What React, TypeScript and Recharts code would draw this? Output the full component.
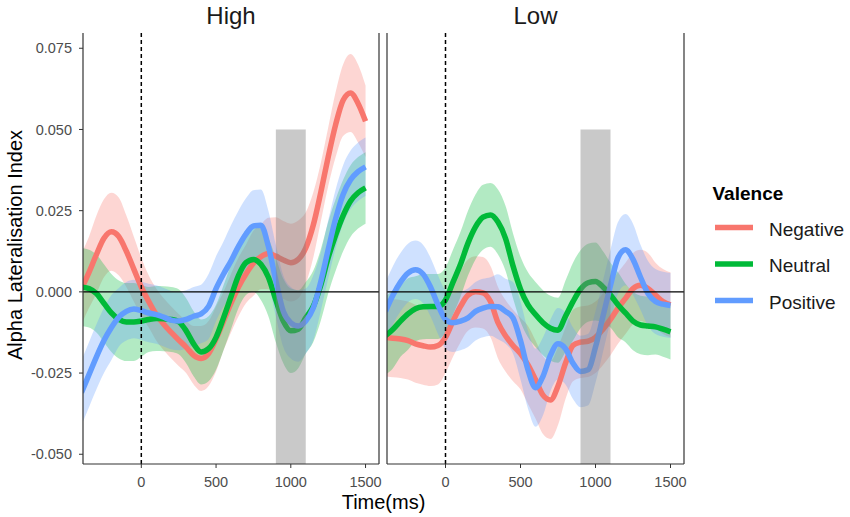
import React from 'react';
import { ComposedChart, Line, Area, XAxis, YAxis, ReferenceLine, ReferenceArea } from 'recharts';

// Time axis (ms), step 50
const times = [
  -400, -350, -300, -250, -200, -150, -100, -50, 0, 50,
  100, 150, 200, 250, 300, 350, 400, 450, 500, 550,
  600, 650, 700, 750, 800, 850, 900, 950, 1000, 1050,
  1100, 1150, 1200, 1250, 1300, 1350, 1400, 1450, 1500,
];

// ---- High panel ----
const highNegative = [
  0.001, 0.006, 0.0115, 0.0165, 0.0185, 0.017, 0.0125, 0.007, 0.0015, -0.003,
  -0.007, -0.01, -0.0125, -0.0148, -0.017, -0.0195, -0.0205, -0.019, -0.0145, -0.009,
  -0.0035, 0.0015, 0.0055, 0.0088, 0.0108, 0.0118, 0.011, 0.0098, 0.009, 0.01,
  0.0135, 0.0205, 0.0305, 0.0415, 0.0515, 0.059, 0.0612, 0.058, 0.0525,
];
const highNeutral = [
  0.0015, 0.001, -0.0005, -0.0035, -0.0065, -0.0085, -0.0093, -0.0093, -0.009, -0.0085,
  -0.0082, -0.0083, -0.0085, -0.0092, -0.012, -0.016, -0.0185, -0.0175, -0.014, -0.008,
  -0.0015, 0.005, 0.009, 0.01, 0.0085, 0.0045, -0.0025, -0.009, -0.012, -0.0115,
  -0.008, -0.0045, 0.002, 0.0105, 0.0175, 0.0235, 0.028, 0.0305, 0.032,
];
const highPositive = [
  -0.031, -0.0255, -0.02, -0.015, -0.011, -0.0078, -0.006, -0.0053, -0.0058, -0.0065,
  -0.007, -0.0078, -0.0087, -0.009, -0.0085, -0.0075, -0.0068, -0.0045, 0.001, 0.0055,
  0.0095, 0.014, 0.0178, 0.0203, 0.0205, 0.014, 0.0035, -0.006, -0.0095, -0.0105,
  -0.009, -0.005, 0.003, 0.013, 0.0225, 0.03, 0.0345, 0.037, 0.0385,
];
const highNegativeCI = [
  0.011, 0.011, 0.012, 0.012, 0.012, 0.012, 0.011, 0.01, 0.009, 0.008,
  0.008, 0.008, 0.008, 0.008, 0.008, 0.009, 0.01, 0.01, 0.01, 0.009,
  0.009, 0.009, 0.009, 0.01, 0.01, 0.011, 0.012, 0.012, 0.012, 0.012,
  0.011, 0.01, 0.009, 0.009, 0.01, 0.011, 0.012, 0.012, 0.011,
];
const highNeutralCI = [
  0.012, 0.012, 0.012, 0.012, 0.012, 0.012, 0.012, 0.012, 0.011, 0.01,
  0.01, 0.01, 0.01, 0.01, 0.01, 0.01, 0.01, 0.01, 0.01, 0.01,
  0.01, 0.01, 0.01, 0.01, 0.011, 0.012, 0.013, 0.013, 0.013, 0.012,
  0.011, 0.011, 0.011, 0.011, 0.011, 0.011, 0.011, 0.011, 0.011,
];
const highPositiveCI = [
  0.01, 0.01, 0.01, 0.01, 0.01, 0.009, 0.009, 0.009, 0.009, 0.009,
  0.009, 0.009, 0.009, 0.009, 0.009, 0.009, 0.009, 0.01, 0.01, 0.01,
  0.011, 0.011, 0.011, 0.011, 0.011, 0.011, 0.011, 0.011, 0.011, 0.011,
  0.01, 0.01, 0.009, 0.009, 0.009, 0.009, 0.009, 0.009, 0.009,
];

// ---- Low panel ----
const lowNegative = [
  -0.014, -0.0143, -0.0145, -0.015, -0.016, -0.0166, -0.017, -0.0165, -0.014, -0.009,
  -0.0045, -0.001, 0.0, -0.0003, -0.003, -0.0095, -0.0135, -0.0165, -0.019, -0.0225,
  -0.027, -0.0318, -0.0333, -0.029, -0.022, -0.0165, -0.0155, -0.0152, -0.014, -0.0115,
  -0.0085, -0.005, -0.002, 0.001, 0.002, 0.001, -0.001, -0.003, -0.004,
];
const lowNeutral = [
  -0.0135, -0.0115, -0.009, -0.0068, -0.0052, -0.0046, -0.0045, -0.0045, -0.0025, 0.003,
  0.0085, 0.015, 0.02, 0.023, 0.0237, 0.0215, 0.0165, 0.008, 0.0008, -0.004,
  -0.007, -0.0095, -0.0112, -0.0118, -0.0075, -0.003, 0.0008, 0.0028, 0.0032, 0.0015,
  -0.001, -0.004, -0.0065, -0.009, -0.0102, -0.0105, -0.0108, -0.0115, -0.0123,
];
const lowPositive = [
  -0.006, -0.001, 0.003, 0.0058, 0.0068, 0.0055, 0.0015, -0.004, -0.0085, -0.0095,
  -0.009, -0.008, -0.006, -0.005, -0.0045, -0.0046, -0.006, -0.008, -0.015, -0.024,
  -0.0295, -0.026, -0.0195, -0.016, -0.0175, -0.022, -0.0245, -0.024, -0.017, -0.0075,
  0.002, 0.0105, 0.013, 0.01, 0.0045, -0.0005, -0.003, -0.0038, -0.0042,
];
const lowNegativeCI = [
  0.012, 0.012, 0.012, 0.012, 0.012, 0.012, 0.012, 0.012, 0.011, 0.011,
  0.011, 0.011, 0.011, 0.011, 0.011, 0.011, 0.011, 0.011, 0.011, 0.012,
  0.012, 0.012, 0.012, 0.012, 0.011, 0.011, 0.011, 0.011, 0.011, 0.011,
  0.011, 0.011, 0.011, 0.011, 0.011, 0.011, 0.01, 0.01, 0.01,
];
const lowNeutralCI = [
  0.012, 0.012, 0.011, 0.011, 0.01, 0.01, 0.01, 0.01, 0.01, 0.01,
  0.01, 0.01, 0.01, 0.01, 0.0098, 0.01, 0.01, 0.01, 0.01, 0.01,
  0.01, 0.01, 0.01, 0.01, 0.011, 0.012, 0.012, 0.012, 0.012, 0.011,
  0.01, 0.01, 0.009, 0.009, 0.009, 0.009, 0.0085, 0.0085, 0.0085,
];
const lowPositiveCI = [
  0.009, 0.009, 0.009, 0.009, 0.009, 0.009, 0.009, 0.009, 0.009, 0.009,
  0.009, 0.009, 0.009, 0.009, 0.009, 0.01, 0.01, 0.011, 0.012, 0.012,
  0.012, 0.012, 0.011, 0.011, 0.011, 0.011, 0.011, 0.011, 0.011, 0.011,
  0.011, 0.011, 0.011, 0.011, 0.01, 0.01, 0.01, 0.01, 0.01,
];

const xTicks = [0, 500, 1000, 1500];
const yTicks = [-0.05, -0.025, 0, 0.025, 0.05, 0.075];
const xDomain: [number, number] = [-390, 1590];
const yDomain: [number, number] = [-0.053, 0.0797];
const shadeStart = 900;
const shadeEnd = 1100;
const shadeTop = 0.05;
const stimulusOnset = 0;

const seriesNames = ['Negative', 'Neutral', 'Positive'];
const seriesColors = ['#F8766D', '#00BA38', '#619CFF'];
const panelTitles = ['High', 'Low'];
const legendTitle = 'Valence';
const xTitle = 'Time(ms)';
const yTitle = 'Alpha Lateralisation Index';

const FONT = '"Liberation Sans", Arial, Helvetica, sans-serif';

function makeRows(vals: number[][], cis: number[][]) {
  return times.map((t, i) => {
    const row: any = { t };
    seriesNames.forEach((name, s) => {
      row[name] = vals[s][i];
      row[name + 'Band'] = [vals[s][i] - cis[s][i], vals[s][i] + cis[s][i]];
    });
    return row;
  });
}

const highRows = makeRows([highNegative, highNeutral, highPositive], [highNegativeCI, highNeutralCI, highPositiveCI]);
const lowRows = makeRows([lowNegative, lowNeutral, lowPositive], [lowNegativeCI, lowNeutralCI, lowPositiveCI]);

const fmtY = (v: number) => v.toFixed(3);

function Panel(props: { rows: any[]; left: number; width: number; mLeft: number; mRight: number; showY: boolean }) {
  const { rows, left, width, mLeft, mRight, showY } = props;
  const tickStyle = { fill: '#4D4D4D', fontSize: 14.5, fontFamily: FONT };
  return (
    <div style={{ position: 'absolute', left, top: 0 }}>
      <ComposedChart width={width} height={517} data={rows} margin={{ top: 33, right: mRight, bottom: 0, left: mLeft }}>
        <XAxis
          dataKey="t"
          type="number"
          domain={xDomain}
          allowDataOverflow
          ticks={xTicks}
          height={53}
          tickSize={4}
          tickMargin={9}
          tick={tickStyle}
          axisLine={{ stroke: '#333333', strokeWidth: 1.2 }}
          tickLine={{ stroke: '#333333' }}
        />
        <YAxis
          yAxisId="v"
          type="number"
          domain={yDomain}
          allowDataOverflow
          ticks={yTicks}
          hide={!showY}
          width={83}
          tickSize={4}
          tickMargin={7}
          tick={tickStyle}
          tickLine={{ stroke: '#333333' }}
          tickFormatter={fmtY}
          axisLine={{ stroke: '#333333', strokeWidth: 1.2 }}
        />
        {seriesNames.map((name, s) => (
          <Area
            key={name + 'band'}
            yAxisId="v"
            dataKey={name + 'Band'}
            type="monotone"
            stroke="none"
            fill={seriesColors[s]}
            fillOpacity={0.3}
            isAnimationActive={false}
            dot={false}
            activeDot={false}
          />
        ))}
        {seriesNames.map((name, s) => (
          <Line
            key={name}
            yAxisId="v"
            dataKey={name}
            type="monotone"
            stroke={seriesColors[s]}
            strokeWidth={5.5}
            dot={false}
            activeDot={false}
            isAnimationActive={false}
          />
        ))}
        <ReferenceArea
          yAxisId="v"
          x1={shadeStart}
          x2={shadeEnd}
          y1={yDomain[0]}
          y2={shadeTop}
          fill="#7F7F7F"
          fillOpacity={0.42}
          stroke="none"
          zIndex={450}
        />
        <ReferenceLine yAxisId="v" y={0} stroke="#000000" strokeWidth={1.3} zIndex={460} />
        <ReferenceLine yAxisId="v" x={stimulusOnset} stroke="#000000" strokeDasharray="4 3" strokeWidth={1.5} zIndex={460} />
        {!showY && (
          <ReferenceLine yAxisId="v" x={xDomain[0]} stroke="#333333" strokeWidth={1.2} ifOverflow="visible" zIndex={470} />
        )}
        <ReferenceLine yAxisId="v" x={xDomain[1]} stroke="#333333" strokeWidth={1.2} ifOverflow="visible" zIndex={470} />
      </ComposedChart>
    </div>
  );
}

export default function App() {
  return (
    <div style={{ position: 'absolute', left: 0, top: 0, width: 850, height: 517, background: '#FFFFFF', fontFamily: FONT }}>
      <Panel rows={highRows} left={0} width={390} mLeft={0} mRight={11} showY={true} />
      <Panel rows={lowRows} left={380} width={310} mLeft={7} mRight={6} showY={false} />
      <svg width={850} height={517} style={{ position: 'absolute', left: 0, top: 0, pointerEvents: 'none' }}>
        <text x={231} y={24} textAnchor="middle" fontSize={24} fill="#1A1A1A" fontFamily={FONT}>{panelTitles[0]}</text>
        <text x={535.5} y={24} textAnchor="middle" fontSize={24} fill="#1A1A1A" fontFamily={FONT}>{panelTitles[1]}</text>
        <text x={383.5} y={509} textAnchor="middle" fontSize={20} fill="#000000" fontFamily={FONT}>{xTitle}</text>
        <text x={15} y={245} textAnchor="middle" dominantBaseline="central" fontSize={20} fill="#000000" fontFamily={FONT} transform="rotate(-90, 15, 245)">{yTitle}</text>
        <text x={712.5} y={200} fontSize={19} fontWeight="bold" fill="#000000" fontFamily={FONT}>{legendTitle}</text>
        {seriesNames.map((name, s) => (
          <g key={name}>
            <line x1={715} x2={753} y1={227.5 + s * 36.5} y2={227.5 + s * 36.5} stroke={seriesColors[s]} strokeWidth={5.5} />
            <text x={769} y={235.5 + s * 36.5} fontSize={19} fill="#1A1A1A" fontFamily={FONT}>{name}</text>
          </g>
        ))}
      </svg>
    </div>
  );
}
